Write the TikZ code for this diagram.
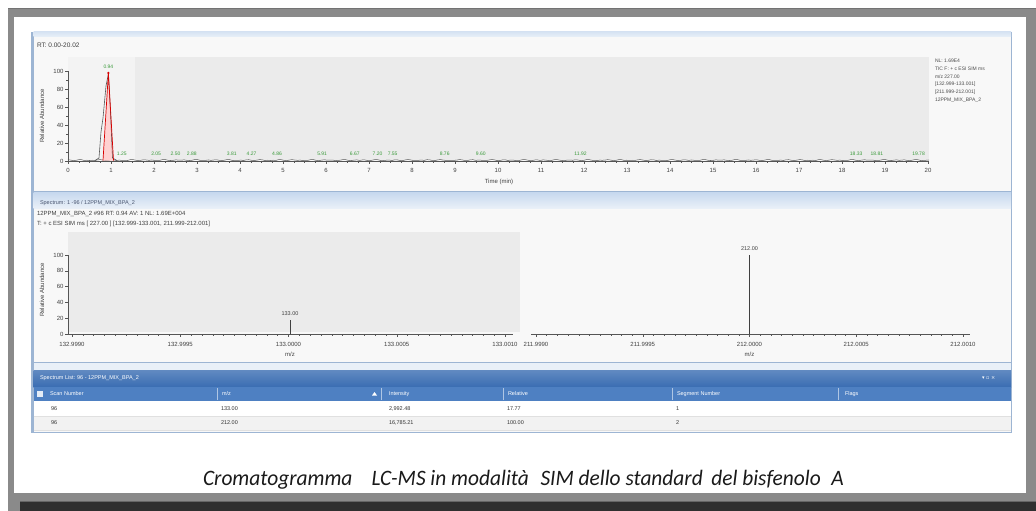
\documentclass[tikz,border=0pt]{standalone}
\usepackage{fontspec}
\usepackage{graphicx}
\setmainfont{Liberation Sans}
\newfontfamily\capfont{Carlito}
\newfontfamily\symfont{DejaVu Sans}
\definecolor{framegray}{HTML}{8A8A8A}
\definecolor{darkband}{HTML}{2F2F2F}
\definecolor{panelbg}{HTML}{F8F8F8}
\definecolor{plotgray}{HTML}{EBEBEB}
\definecolor{plotlight}{HTML}{F3F3F3}
\definecolor{edgeblue}{HTML}{9DB5D3}
\definecolor{barlight}{HTML}{E9F0F8}
\definecolor{bartop}{HTML}{C6D8EE}
\definecolor{tblbar}{HTML}{3A6DB2}
\definecolor{tblhead}{HTML}{4E80C2}
\definecolor{peakgreen}{HTML}{3A9A3A}
\definecolor{axisgray}{HTML}{555555}
\definecolor{rowalt}{HTML}{F2F2F2}
\definecolor{capcol}{HTML}{1A1A1A}
\definecolor{lbltxt}{HTML}{4A5670}
\begin{document}
\begin{tikzpicture}[x=1pt,y=-1pt,
  every node/.style={inner sep=0pt,outer sep=0pt},
  ticklab/.style={font=\fontsize{6}{7}\selectfont,text=black!75},
  smalltxt/.style={font=\fontsize{5.5}{6.5}\selectfont,text=black!75,anchor=west},
  legtxt/.style={font=\fontsize{5}{6}\selectfont,text=black!70,anchor=west},
  greenlab/.style={font=\fontsize{5}{6}\selectfont,text=peakgreen},
  axisline/.style={draw=axisgray,line width=0.6pt},
  tickmark/.style={draw=axisgray,line width=0.4pt},
  headtxt/.style={font=\fontsize{5.5}{6.5}\selectfont,text=white,anchor=west},
  celltxt/.style={font=\fontsize{5.5}{6.5}\selectfont,text=black!80,anchor=west},
  sepline/.style={draw=white!55!tblhead,line width=0.4pt},
  rowline/.style={draw=black!12,line width=0.4pt},
]
\useasboundingbox (0,0) rectangle (1036,511);
\fill[white] (0,0) rectangle (1036,511);
% outer frame
\fill[framegray] (8,8) rectangle (1036,511);
\fill[black!55] (8,8) rectangle (1036,9.5);
\fill[white] (14,17) rectangle (1026,493);
\fill[darkband] (20,501) rectangle (1036,511);
\draw[black!60,line width=1pt] (20,501.5) -- (1036,501.5);
% screenshot background
\fill[panelbg] (31,32) rectangle (1011,432);
\draw[edgeblue,line width=0.6pt] (31,32) rectangle (1011,432);
\fill[edgeblue] (31,32) rectangle (33.5,432);
% ---------------- top panel: chromatogram
\shade[top color=bartop!70!white,bottom color=barlight] (33.5,32) rectangle (1011,37);
\node[smalltxt,font=\fontsize{6.5}{7.5}\selectfont] (rt) at (37,45) {RT: 0.00-20.02};
\fill[plotlight] (68,57) rectangle (135,160);
\fill[plotgray] (135,57) rectangle (929,160);
% baseline noise
\draw[black!65,line width=0.5pt] plot[domain=68:929,samples=320] (\x,{160.6-1.1*abs(sin(17*\x))*abs(cos(11*\x))});
% peak
\fill[red!18] (103,160.5) -- (108.4,73) -- (113.5,160.5) -- cycle;
\draw[black!65,line width=0.6pt] (95,160.5) -- (99,158) -- (101,132) -- (103,118) -- (106,86) -- (108.4,74) -- (110.5,112) -- (112.5,158) -- (117,160.5);
\draw[red!85!black,line width=0.7pt] (103,160.5) -- (108.4,73) -- (113.5,160.5);
\fill[red!85!black] (108.4,73) circle (1.2);
\node[greenlab] (p094) at (108.4,66.5) {0.94};
\foreach \t [count=\i] in {1.25,2.05,2.50,2.88,3.81,4.27,4.86,5.91,6.67,7.20,7.55,8.76,9.60,11.92,18.33,18.81,19.78}
  \node[greenlab] (gl\i) at ({68+43*\t},153.5) {\t};
% axes
\draw[axisline] (68,71) -- (68,161) -- (929,161);
\foreach \v [count=\i] in {0,20,40,60,80,100} {
  \draw[tickmark] (65,{161-0.9*\v}) -- (68,{161-0.9*\v});
  \node[ticklab,anchor=east] (cy\i) at (63.5,{161-0.9*\v}) {\v};
}
\foreach \v in {10,30,50,70,90} \draw[tickmark] (66.3,{161-0.9*\v}) -- (68,{161-0.9*\v});
\foreach \t in {0,...,20} {
  \draw[tickmark] ({68+43*\t},161) -- ({68+43*\t},164);
  \node[ticklab] (cx\t) at ({68+43*\t},170.5) {\t};
}
\foreach \i in {1,...,79} \draw[tickmark] ({68+10.75*\i},161) -- ({68+10.75*\i},162.6);
\node[ticklab] (tmin) at (499,181.5) {Time (min)};
\node[ticklab,rotate=90] (yl1) at (42,116) {Relative Abundance};
% legend
\node[legtxt] (lg1) at (935,61) {NL: 1.69E4};
\node[legtxt] (lg2) at (935,69) {TIC  F: + c ESI SIM ms};
\node[legtxt] (lg3) at (935,77) {m/z 227.00};
\node[legtxt] (lg4) at (935,84.5) {[132.999-133.001]};
\node[legtxt] (lg5) at (935,92) {[211.999-212.001]};
\node[legtxt] (lg6) at (935,100) {12PPM\_MIX\_BPA\_2};
% ---------------- middle panel: spectrum
\draw[edgeblue,line width=0.6pt] (33.5,191.5) -- (1011,191.5);
\shade[top color=bartop,bottom color=barlight] (33.5,192) rectangle (1011,208);
\node[smalltxt,text=lbltxt] (sptitle) at (40,203) {Spectrum: 1 -96 / 12PPM\_MIX\_BPA\_2};
\node[smalltxt,font=\fontsize{6}{7}\selectfont] (hd1) at (37,214.5) {12PPM\_MIX\_BPA\_2 \#96  RT: 0.94  AV: 1  NL: 1.69E+004};
\node[smalltxt,font=\fontsize{6}{7}\selectfont] (hd2) at (37,223.5) {T: + c ESI SIM ms [ 227.00 ] [132.999-133.001, 211.999-212.001]};
\fill[plotgray] (68,232) rectangle (520,332);
\draw[axisline] (68,255) -- (68,334) -- (513,334);
\draw[axisline] (531,334) -- (970,334);
\foreach \v [count=\i] in {0,20,40,60,80,100} {
  \draw[tickmark] (65,{334-0.79*\v}) -- (68,{334-0.79*\v});
  \node[ticklab,anchor=east] (sy\i) at (63.5,{334-0.79*\v}) {\v};
}
\foreach \l [count=\k from 0] in {132.9990,132.9995,133.0000,133.0005,133.0010} {
  \draw[tickmark] ({72+108.25*\k},334) -- ({72+108.25*\k},337);
  \node[ticklab] (sl\k) at ({72+108.25*\k},344) {\l};
}
\foreach \i in {0,...,40} \draw[tickmark] ({72+10.825*\i},334) -- ({72+10.825*\i},335.8);
\foreach \l [count=\k from 0] in {211.9990,211.9995,212.0000,212.0005,212.0010} {
  \draw[tickmark] ({536+106.75*\k},334) -- ({536+106.75*\k},337);
  \node[ticklab] (sr\k) at ({536+106.75*\k},344) {\l};
}
\foreach \i in {0,...,40} \draw[tickmark] ({536+10.675*\i},334) -- ({536+10.675*\i},335.8);
\draw[black!75,line width=0.7pt] (290,334) -- (290,320);
\node[ticklab,font=\fontsize{5.5}{6.5}\selectfont] (pk1) at (290,313.5) {133.00};
\draw[black!75,line width=0.7pt] (749.5,334) -- (749.5,254.5);
\node[ticklab,font=\fontsize{5.5}{6.5}\selectfont] (pk2) at (749.5,249) {212.00};
\node[ticklab] (mz1) at (290,354) {m/z};
\node[ticklab] (mz2) at (749.5,354) {m/z};
\node[ticklab,rotate=90] (yl2) at (42,290) {Relative Abundance};
% ---------------- bottom panel: spectrum list
\fill[barlight] (33.5,362) rectangle (1011,370);
\draw[edgeblue,line width=0.5pt] (33.5,362.5) -- (1011,362.5);
\shade[top color=tblbar!80!white,bottom color=tblbar] (33.5,370) rectangle (1011,387);
\node[headtxt] (lsttitle) at (40,378.5) {Spectrum List: 96 - 12PPM\_MIX\_BPA\_2};
\node[headtxt,font=\symfont\fontsize{5}{6}\selectfont] (icons) at (982,378.5) {▾ ▫ ×};
\fill[tblhead] (33.5,387) rectangle (1011,401);
\fill[white!85!tblhead] (37,391) rectangle (43,397);
\node[headtxt] (hScan) at (50,394) {Scan Number};
\node[headtxt] (hMz) at (222,394) {m/z};
\fill[white] (372,395.5) -- (377,395.5) -- (374.5,392) -- cycle;
\node[headtxt] (hInt) at (389,394) {Intensity};
\node[headtxt] (hRel) at (508,394) {Relative};
\node[headtxt] (hSeg) at (677,394) {Segment Number};
\node[headtxt] (hFlg) at (845,394) {Flags};
\foreach \xs in {217,381,503,672,838} \draw[sepline] (\xs,388) -- (\xs,400);
\fill[white] (33.5,401) rectangle (1011,416);
\fill[rowalt] (33.5,416) rectangle (1011,430);
\draw[rowline] (33.5,416) -- (1011,416);
\draw[rowline] (33.5,430) -- (1011,430);
\node[celltxt] (r1a) at (51,409) {96};
\node[celltxt] (r1b) at (221,409) {133.00};
\node[celltxt] (r1c) at (389,409) {2,992.48};
\node[celltxt] (r1d) at (507,409) {17.77};
\node[celltxt] (r1e) at (676,409) {1};
\node[celltxt] (r2a) at (51,423) {96};
\node[celltxt] (r2b) at (221,423) {212.00};
\node[celltxt] (r2c) at (389,423) {16,785.21};
\node[celltxt] (r2d) at (507,423) {100.00};
\node[celltxt] (r2e) at (676,423) {2};
% ---------------- caption
\node[anchor=base west,font=\capfont\itshape\fontsize{22}{26}\selectfont,text=capcol] (caption) at (203,485)
  {\resizebox{641pt}{\height}{Cromatogramma\hspace{0.9em}LC-MS in modalità\hspace{0.55em}SIM dello standard\hspace{0.4em}del bisfenolo\hspace{0.5em}A}};
\end{tikzpicture}
\end{document}
